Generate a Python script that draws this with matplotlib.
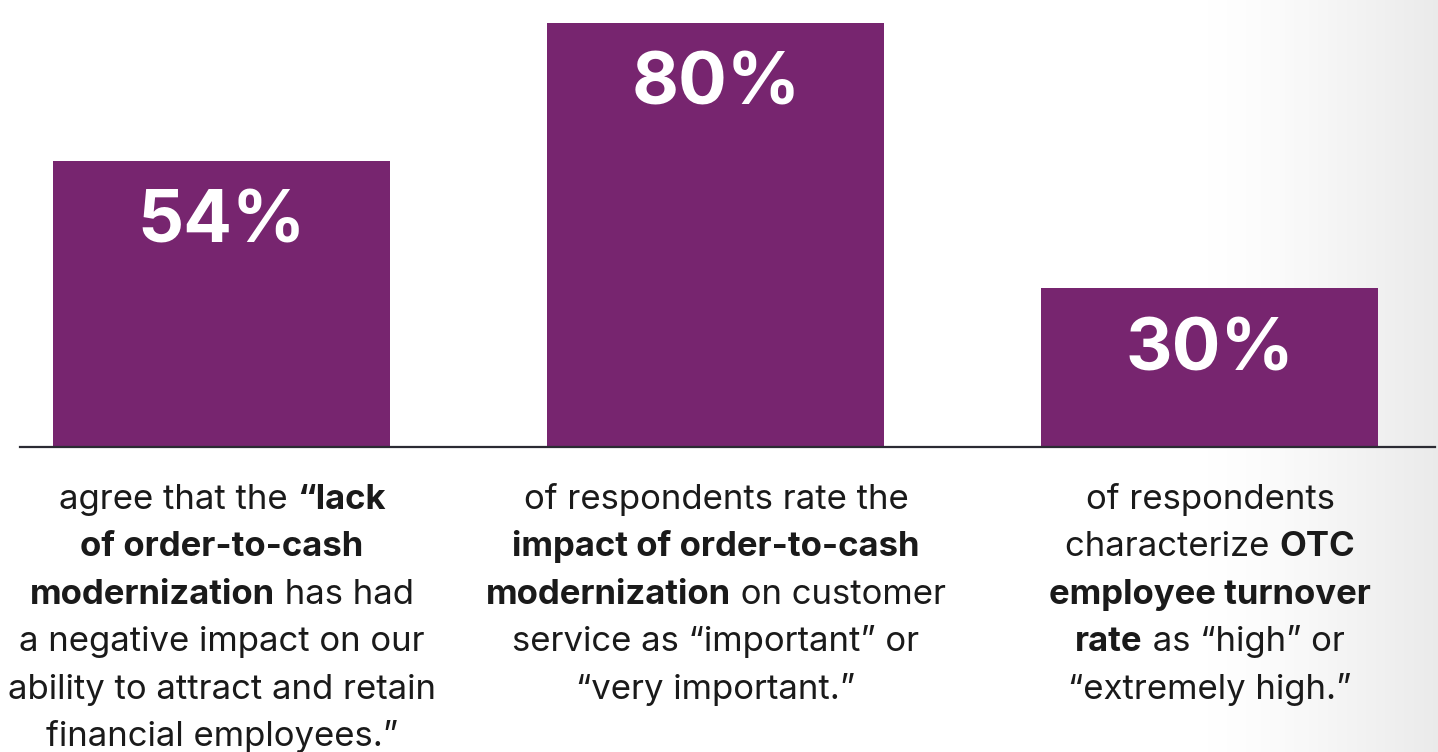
import numpy as np
import matplotlib.pyplot as plt

values = [54, 80, 30]
value_labels = ["54%", "80%", "30%"]
# each caption: list of lines, each line a list of (text, bold)
captions = [
    [[("agree that the ", False), ("\u201clack", True)],
     [("of order-to-cash", True)],
     [("modernization", True), (" has had", False)],
     [("a negative impact on our", False)],
     [("ability to attract and retain", False)],
     [("financial employees.\u201d", False)]],
    [[("of respondents rate the", False)],
     [("impact of order-to-cash", True)],
     [("modernization", True), (" on customer", False)],
     [("service as \u201cimportant\u201d or", False)],
     [("\u201cvery important.\u201d", False)]],
    [[("of respondents", False)],
     [("characterize ", False), ("OTC", True)],
     [("employee turnover", True)],
     [("rate", True), (" as \u201chigh\u201d or", False)],
     [("\u201cextremely high.\u201d", False)]],
]

purple = "#77256f"
font = "Inter"

fig = plt.figure(figsize=(14.38, 7.52), dpi=100)

# faint background on the right
bg = fig.add_axes([0, 0, 1, 1])
bg.set_axis_off()
xx = np.linspace(0, 1, 300)
grad = np.clip((xx - 0.84) / 0.16, 0, 1) ** 1.3
img = np.ones((10, 300, 3)) - grad[None, :, None] * 0.08
bg.imshow(img, aspect="auto", extent=[0, 1, 0, 1])
bg.set_xlim(0, 1)
bg.set_ylim(0, 1)

ax = fig.add_axes([0, 0, 1, 1])
ax.patch.set_alpha(0)
x = np.arange(len(values))
ax.bar(x, values, width=0.682, color=purple, zorder=2)
ax.set_xlim(-0.449, 2.462)
ax.set_ylim(-57.5, 84.3)
ax.plot([-0.409, 2.455], [0, 0], color="#2b2b33", lw=1.6, zorder=3)
ax.set_axis_off()

for xi, v, lab in zip(x, values, value_labels):
    ax.text(xi, v - 11.9, lab, ha="center", va="center", color="white",
            fontsize=52, fontweight="bold", family=font, zorder=4)

# captions, laid out in pixel coords
tx = fig.add_axes([0, 0, 1, 1])
tx.set_axis_off()
tx.patch.set_alpha(0)
tx.set_xlim(0, 1438)
tx.set_ylim(752, 0)

renderer = fig.canvas.get_renderer()
centers = [222, 716, 1210]
fs = 25
line_h = 47.4
first_base = 509
for cx, lines in zip(centers, captions):
    for i, segs in enumerate(lines):
        y = first_base + i * line_h
        items = []
        total = 0
        for s, b in segs:
            t = tx.text(0, y, s, ha="left", va="baseline", fontsize=fs,
                        fontweight="bold" if b else "normal", family=font,
                        color="#1a1a1a")
            w = t.get_window_extent(renderer).width
            items.append((t, w))
            total += w
        xs = cx - total / 2
        for t, w in items:
            t.set_x(xs)
            xs += w

fig.savefig("out.png", dpi=100)
